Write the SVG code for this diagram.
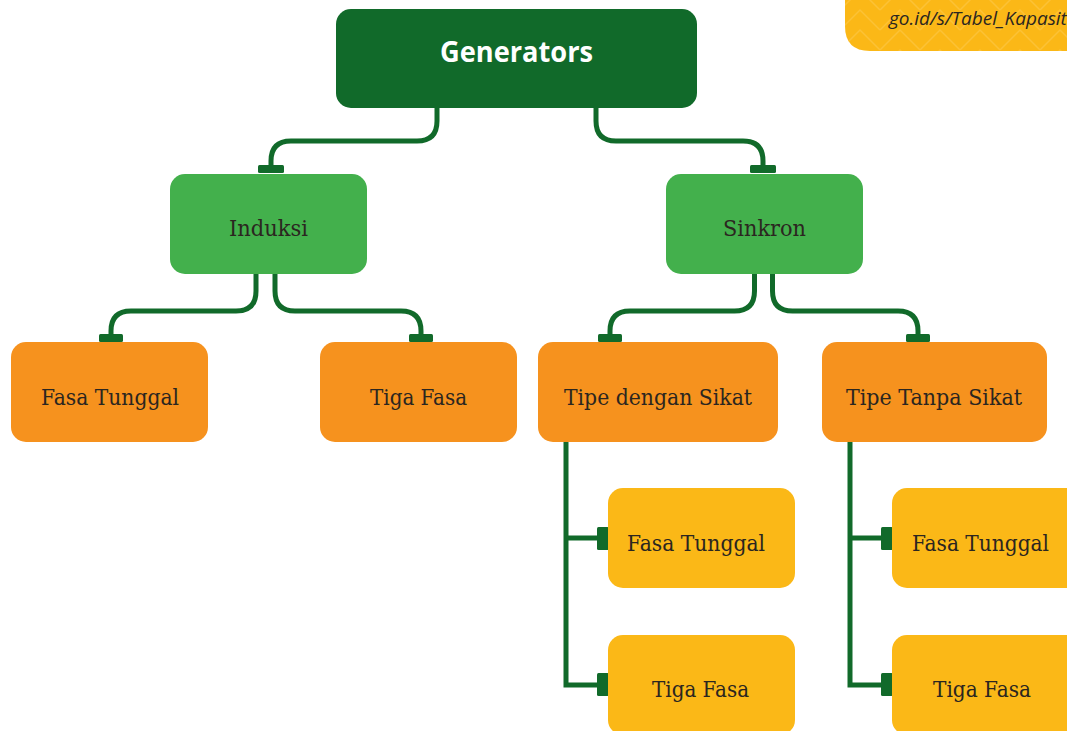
<svg xmlns="http://www.w3.org/2000/svg" width="1067" height="731" viewBox="0 0 1067 731">
  <style>
    .wire { fill: none; stroke: #116a2a; stroke-width: 5; stroke-linejoin: miter; }
    .cap { fill: #116a2a; }
    .root { fill: #116a2a; }
    .lvl1 { fill: #43b04c; }
    .lvl2 { fill: #f6921e; }
    .lvl3 { fill: #fbb817; }
    .label { font-family: "DejaVu Serif", "Liberation Serif", serif; font-size: 22.5px; fill: #2b2620; text-anchor: middle; }
    .title { font-family: "Open Sans", "Noto Sans", sans-serif; font-weight: 700; font-size: 28px; fill: #ffffff; text-anchor: middle; }
    .link { font-family: "Open Sans", "Noto Sans", sans-serif; font-style: italic; font-size: 19px; fill: #2b2620; }
  </style>
  <defs>
    <pattern id="zigzag" width="40" height="40" patternUnits="userSpaceOnUse">
      <path d="M0,30 L20,10 L40,30 M0,50 L20,30 L40,50 M0,10 L20,-10 L40,10" fill="none" stroke="#fcc84a" stroke-width="1.5"/>
    </pattern>
  </defs>

  <rect width="1067" height="731" fill="#ffffff"/>

  <!-- link badge, top right -->
  <g id="badge">
    <path d="M845,0 H1067 V51 H870 Q845,51 845,26 Z" fill="#fbb817"/>
    <path d="M845,0 H1067 V51 H870 Q845,51 845,26 Z" fill="url(#zigzag)" opacity="0.6"/>
    <text class="link" x="889" y="25">go.id/s/Tabel_Kapasit</text>
  </g>

  <!-- connectors -->
  <g id="connectors">
    <path class="wire" d="M437,108 V121 Q437,141 417,141 H291 Q271,141 271,161 V168"/>
    <path class="wire" d="M596,108 V121 Q596,141 616,141 H743 Q763,141 763,161 V168"/>
    <path class="wire" d="M256,274 V291 Q256,311 236,311 H131 Q111,311 111,331 V337"/>
    <path class="wire" d="M275,274 V291 Q275,311 295,311 H401 Q421,311 421,331 V337"/>
    <path class="wire" d="M754.5,274 V291 Q754.5,311 734.5,311 H630 Q610,311 610,331 V337"/>
    <path class="wire" d="M772.5,274 V291 Q772.5,311 792.5,311 H898 Q918,311 918,331 V337"/>
    <path class="wire" d="M566,442 V685 H600 M566,538 H600"/>
    <path class="wire" d="M850,442 V685 H884 M850,538 H884"/>
    <rect class="cap" x="258" y="165" width="26" height="8" rx="1.5"/>
    <rect class="cap" x="750" y="165" width="26" height="8" rx="1.5"/>
    <rect class="cap" x="99" y="334" width="24" height="8" rx="1.5"/>
    <rect class="cap" x="409" y="334" width="24" height="8" rx="1.5"/>
    <rect class="cap" x="598" y="334" width="24" height="8" rx="1.5"/>
    <rect class="cap" x="906" y="334" width="24" height="8" rx="1.5"/>
    <rect class="cap" x="597" y="527" width="12" height="23" rx="1.5"/>
    <rect class="cap" x="597" y="673" width="12" height="23" rx="1.5"/>
    <rect class="cap" x="881" y="527" width="12" height="23" rx="1.5"/>
    <rect class="cap" x="881" y="673" width="12" height="23" rx="1.5"/>
  </g>

  <g id="generators">
    <rect class="root" x="336" y="9" width="361" height="99" rx="15"/>
    <text class="title" x="516.5" y="62" textLength="153" lengthAdjust="spacingAndGlyphs">Generators</text>
  </g>

  <g id="induksi">
    <rect class="lvl1" x="170" y="174" width="197" height="100" rx="15"/>
    <text class="label" x="268.5" y="236" textLength="79" lengthAdjust="spacingAndGlyphs">Induksi</text>
  </g>

  <g id="sinkron">
    <rect class="lvl1" x="666" y="174" width="197" height="100" rx="15"/>
    <text class="label" x="764.5" y="236" textLength="83" lengthAdjust="spacingAndGlyphs">Sinkron</text>
  </g>

  <g id="induksi-fasa-tunggal">
    <rect class="lvl2" x="11" y="342" width="197" height="100" rx="15"/>
    <text class="label" x="110" y="405" textLength="138" lengthAdjust="spacingAndGlyphs">Fasa Tunggal</text>
  </g>

  <g id="induksi-tiga-fasa">
    <rect class="lvl2" x="320" y="342" width="197" height="100" rx="15"/>
    <text class="label" x="418.5" y="405" textLength="97" lengthAdjust="spacingAndGlyphs">Tiga Fasa</text>
  </g>

  <g id="tipe-dengan-sikat">
    <rect class="lvl2" x="538" y="342" width="240" height="100" rx="15"/>
    <text class="label" x="658" y="405" textLength="188" lengthAdjust="spacingAndGlyphs">Tipe dengan Sikat</text>
  </g>

  <g id="tipe-tanpa-sikat">
    <rect class="lvl2" x="822" y="342" width="225" height="100" rx="15"/>
    <text class="label" x="934" y="405" textLength="176" lengthAdjust="spacingAndGlyphs">Tipe Tanpa Sikat</text>
  </g>

  <g id="sikat-fasa-tunggal">
    <rect class="lvl3" x="608" y="488" width="187" height="100" rx="15"/>
    <text class="label" x="696" y="551" textLength="138" lengthAdjust="spacingAndGlyphs">Fasa Tunggal</text>
  </g>

  <g id="sikat-tiga-fasa">
    <rect class="lvl3" x="608" y="635" width="187" height="100" rx="15"/>
    <text class="label" x="700.5" y="697" textLength="97" lengthAdjust="spacingAndGlyphs">Tiga Fasa</text>
  </g>

  <g id="tanpa-sikat-fasa-tunggal">
    <rect class="lvl3" x="892" y="488" width="190" height="100" rx="15"/>
    <text class="label" x="980.5" y="551" textLength="137" lengthAdjust="spacingAndGlyphs">Fasa Tunggal</text>
  </g>

  <g id="tanpa-sikat-tiga-fasa">
    <rect class="lvl3" x="892" y="635" width="190" height="100" rx="15"/>
    <text class="label" x="982" y="697" textLength="98" lengthAdjust="spacingAndGlyphs">Tiga Fasa</text>
  </g>
</svg>
